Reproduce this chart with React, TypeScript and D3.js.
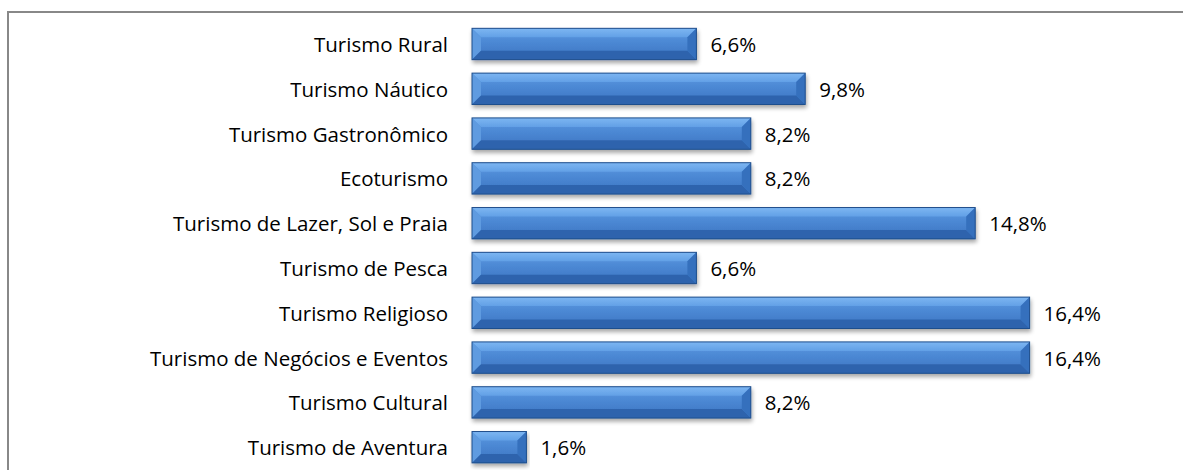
import React from "react";
import * as d3 from "d3";

const categories = [
  "Turismo Rural",
  "Turismo Náutico",
  "Turismo Gastronômico",
  "Ecoturismo",
  "Turismo de Lazer, Sol e Praia",
  "Turismo de Pesca",
  "Turismo Religioso",
  "Turismo de Negócios e Eventos",
  "Turismo Cultural",
  "Turismo de Aventura",
];
const values = [6.6, 9.8, 8.2, 8.2, 14.8, 6.6, 16.4, 16.4, 8.2, 1.6];
const valueLabels = ["6,6%", "9,8%", "8,2%", "8,2%", "14,8%", "6,6%", "16,4%", "16,4%", "8,2%", "1,6%"];

const W = 1183;
const H = 470;
const FONT = "'Open Sans', 'Noto Sans', sans-serif";
const FS = 20.5;

export default function App() {
  const x = d3.scaleLinear().domain([0, 10]).range([472, 812]);
  const y = d3
    .scaleBand<string>()
    .domain(categories)
    .range([21.6, 469.6])
    .paddingInner(0.3)
    .paddingOuter(0.15);
  const bw = y.bandwidth();
  const bev = 9;

  return (
    <svg
      width={W}
      height={H}
      style={{ position: "absolute", left: 0, top: 0, background: "#fff" }}
    >
      <defs>
        <linearGradient id="mainG" x1="0" y1="0" x2="0" y2="1">
          <stop offset="0" stopColor="#5d9ae2" />
          <stop offset="0.5" stopColor="#4a86d2" />
          <stop offset="1" stopColor="#3a73c0" />
        </linearGradient>
        <linearGradient id="topG" x1="0" y1="0" x2="0" y2="1">
          <stop offset="0" stopColor="#7db6f2" />
          <stop offset="1" stopColor="#62a0e6" />
        </linearGradient>
        <filter id="shadow" x="-5%" y="-30%" width="110%" height="180%">
          <feGaussianBlur in="SourceAlpha" stdDeviation="2" />
          <feOffset dx="1" dy="3" result="ob" />
          <feComponentTransfer>
            <feFuncA type="linear" slope="0.35" />
          </feComponentTransfer>
          <feMerge>
            <feMergeNode />
            <feMergeNode in="SourceGraphic" />
          </feMerge>
        </filter>
      </defs>
      <rect x={8} y={12} width={1300} height={600} fill="none" stroke="#888" strokeWidth={2} />
      {categories.map((c, i) => {
        const y0 = y(c)!;
        const x0 = x(0);
        const x1 = x(values[i]);
        const y1 = y0 + bw;
        const b = Math.min(bev, (x1 - x0) / 2);
        return (
          <g key={c}>
            <g filter="url(#shadow)">
              <rect x={x0} y={y0} width={x1 - x0} height={bw} fill="url(#mainG)" />
              <polygon
                points={`${x0},${y0} ${x1},${y0} ${x1 - b},${y0 + b} ${x0 + b},${y0 + b}`}
                fill="url(#topG)"
              />
              <polygon
                points={`${x0},${y0} ${x0 + b},${y0 + b} ${x0 + b},${y1 - b} ${x0},${y1}`}
                fill="#5e9be0"
              />
              <polygon
                points={`${x0},${y1} ${x0 + b},${y1 - b} ${x1 - b},${y1 - b} ${x1},${y1}`}
                fill="#2f64ad"
              />
              <polygon
                points={`${x1},${y0} ${x1 - b},${y0 + b} ${x1 - b},${y1 - b} ${x1},${y1}`}
                fill="#3570bd"
              />
              <rect
                x={x0}
                y={y0}
                width={x1 - x0}
                height={bw}
                fill="none"
                stroke="#1f4e8c"
                strokeWidth={1}
              />
            </g>
            <text
              x={448}
              y={y0 + bw / 2}
              textAnchor="end"
              dominantBaseline="central"
              fontFamily={FONT}
              fontSize={FS}
              fill="#000"
            >
              {c}
            </text>
            <text
              x={x1 + 14}
              y={y0 + bw / 2}
              dominantBaseline="central"
              fontFamily={FONT}
              fontSize={FS}
              fill="#000"
            >
              {valueLabels[i]}
            </text>
          </g>
        );
      })}
    </svg>
  );
}
